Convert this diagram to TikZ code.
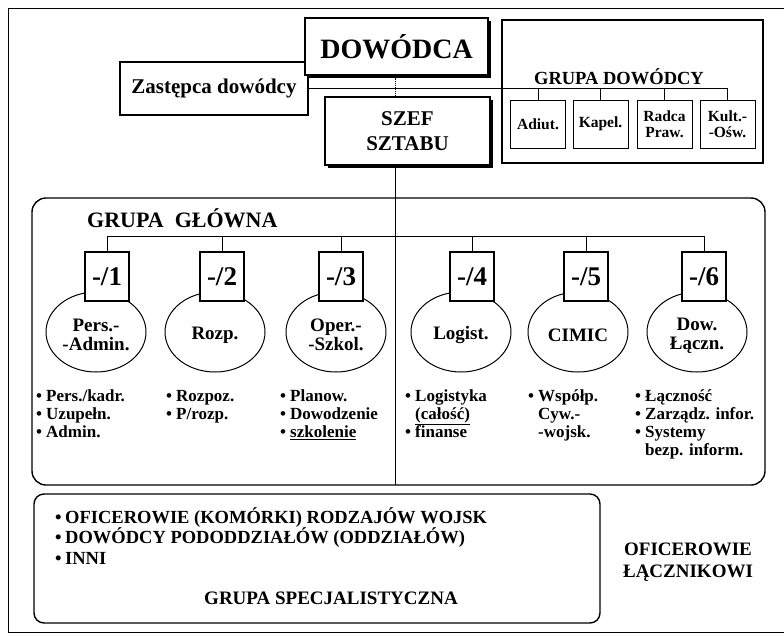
\documentclass[tikz,border=0pt]{standalone}
\usepackage{fontspec}
\setmainfont{Liberation Serif}
\usetikzlibrary{positioning,shapes.geometric,shadows}

\newcommand{\fsz}[1]{\fontsize{#1}{#1}\selectfont}
\newcommand{\blt}{\rule{0pt}{13pt}\makebox[10pt][l]{\textbullet}}
\newcommand{\bltc}{\rule{0pt}{13pt}\hspace*{10pt}}

\tikzset{
  box/.style={draw, line width=1.2pt, fill=white, inner sep=0pt},
  shbox/.style={box, drop shadow={shadow xshift=2.5pt, shadow yshift=-2.5pt, fill=black, opacity=1}},
  numbox/.style={box, minimum width=44pt, minimum height=49pt, font=\bfseries\fsz{27}},
  dept/.style={ellipse, draw, line width=1pt, minimum width=100pt, minimum height=80pt, inner sep=0pt, align=center, font=\bfseries\fsz{19}},
  aide/.style={box, line width=1pt, minimum width=55pt, minimum height=48pt, align=center, font=\bfseries\fsz{15.5}},
  tasks/.style={anchor=north west, inner sep=0pt, align=left, font=\bfseries\fontsize{17}{18}\selectfont},
  group/.style={draw, line width=1.4pt, rounded corners=14pt, inner sep=0pt},
  link/.style={line width=0.9pt}
}

\begin{document}
\begin{tikzpicture}[x=1pt, y=-1pt]
\useasboundingbox (0,0) rectangle (784,635);
\draw[line width=0.8pt] (8,8) rectangle (800,632);

% top of the command
\node (Zast) [box, minimum width=188pt, minimum height=53pt, font=\bfseries\fsz{21}] at (214,88.5) {Zastępca dowódcy};
\node (Dow) [shbox, minimum width=183pt, minimum height=57pt, font=\bfseries\fsz{28}] at (396.5,46.5) {DOWÓDCA};
\node (Szef) [shbox, minimum width=165pt, minimum height=68pt, align=center, font=\bfseries\fontsize{21}{25}\selectfont] at (407.5,131) {SZEF\\SZTABU};
\coordinate (spine) at (395,485);
\draw[link, densely dotted] (Dow.south -| spine) -- (Szef.north -| spine);

% grupa dowodcy
\node (GD) [draw, line width=1.4pt, minimum width=261pt, minimum height=143pt] at (632.5,91.5) {};
\node (GDtitle) at (619,77) {\bfseries\fsz{18.5}GRUPA DOWÓDCY};
\node (Adiut) [aide] at (538,124) {Adiut.};
\node (Kapel) [aide] at (600.5,124) {Kapel.};
\node (Radca) [aide] at (664.5,124) {Radca\\Praw.};
\node (Kult) [aide] at (727.5,124) {Kult.-\\-Ośw.};
\draw[link] (Zast.east) -- (Kult.north |- Zast.east) -- (Kult.north);
\draw[link] (Adiut.north |- Zast.east) -- (Adiut.north);
\draw[link] (Kapel.north |- Zast.east) -- (Kapel.north);
\draw[link] (Radca.north |- Zast.east) -- (Radca.north);

% grupa glowna
\node (GG) [group, minimum width=733pt, minimum height=287pt] at (398.5,341.5) {};
\node (GGtitle) [anchor=west, inner sep=0pt] at (87,218) {\bfseries\fsz{22}GRUPA\ \ GŁÓWNA};
\draw[link] (Szef.south -| spine) -- (spine);

\node (E1) [dept] at (96,332) {\\Pers.-\\-Admin.};
\node (E2) [dept] at (215,332) {\\Rozp.};
\node (E3) [dept] at (336,332) {\\Oper.-\\-Szkol.};
\node (E4) [dept] at (461,332) {\\Logist.};
\node (E5) [dept] at (578,332) {\\CIMIC};
\node (E6) [dept] at (697,332) {\\Dow.\\Łączn.};

\node (N1) [numbox] at (107,276.5) {-/1};
\node (N2) [numbox] at (222,276.5) {-/2};
\node (N3) [numbox] at (341,276.5) {-/3};
\node (N4) [numbox] at (472,276.5) {-/4};
\node (N5) [numbox] at (586,276.5) {-/5};
\node (N6) [numbox] at (704,276.5) {-/6};

\coordinate (bar) at (395,236);
\draw[link] (N1.north |- bar) -- (N6.north |- bar);
\draw[link] (N1.north |- bar) -- (N1.north);
\draw[link] (N2.north |- bar) -- (N2.north);
\draw[link] (N3.north |- bar) -- (N3.north);
\draw[link] (N4.north |- bar) -- (N4.north);
\draw[link] (N5.north |- bar) -- (N5.north);
\draw[link] (N6.north |- bar) -- (N6.north);

\node (T1) [tasks] at (36,388) {\blt Pers./kadr.\\\blt Uzupełn.\\\blt Admin.};
\node (T2) [tasks] at (166,388) {\blt Rozpoz.\\\blt P/rozp.};
\node (T3) [tasks] at (280,388) {\blt Planow.\\\blt Dowodzenie\\\blt \underline{szkolenie}};
\node (T4) [tasks] at (405,388) {\blt Logistyka\\\bltc\smash{\underline{(całość)}}\\\blt finanse};
\node (T5) [tasks] at (528,388) {\blt Współp.\\\bltc Cyw.-\\\bltc -wojsk.};
\node (T6) [tasks] at (635,388) {\blt Łączność\\\blt Zarządz. infor.\\\blt Systemy\\\bltc bezp. inform.};

% grupa specjalistyczna
\node (GS) [group, rounded corners=10pt, minimum width=566pt, minimum height=129pt] at (317,558.5) {};
\node (GSlist) [tasks, font=\bfseries\fontsize{18.5}{20.5}\selectfont] at (55,507) {\blt OFICEROWIE (KOMÓRKI) RODZAJÓW WOJSK\\\blt DOWÓDCY PODODDZIAŁÓW (ODDZIAŁÓW)\\\blt INNI};
\node (GStitle) at (331,598) {\bfseries\fsz{19}GRUPA SPECJALISTYCZNA};
\node (Lacz) [align=center, font=\bfseries\fontsize{19}{22}\selectfont] at (688,562) {OFICEROWIE\\ŁĄCZNIKOWI};
\end{tikzpicture}
\end{document}
